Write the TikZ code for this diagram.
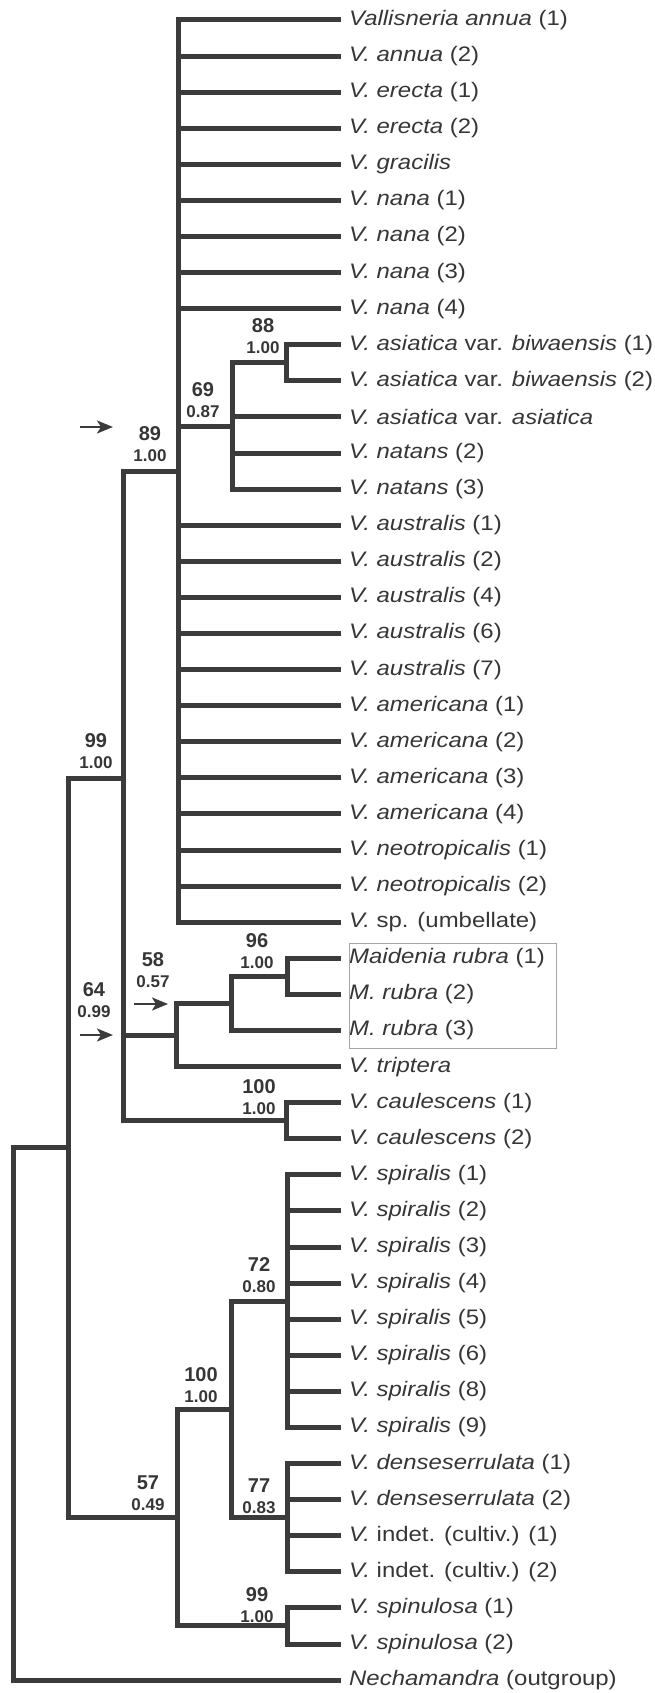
\documentclass[tikz,border=0pt]{standalone}
\usepackage{fontspec}
\setmainfont{Liberation Sans}
\newfontfamily\leaffont{Liberation Sans}[FakeStretch=1.14]
\usetikzlibrary{positioning, arrows.meta}
\definecolor{treegrey}{HTML}{3B3B3B}
\definecolor{textgrey}{HTML}{363636}
\definecolor{boxgrey}{HTML}{A6A6A6}

\begin{document}
\begin{tikzpicture}[x=1pt, y=-1pt, node distance=36.09pt]
% Define styles
\tikzstyle{leaf} = [font=\leaffont\fontsize{21}{25}\selectfont, text=textgrey, inner xsep=8pt, inner ysep=2pt]
\tikzstyle{support} = [font=\bfseries\fontsize{20}{21}\selectfont, text=textgrey, align=center, anchor=south, inner sep=0pt]
\tikzstyle{branch} = [draw=treegrey, line width=5pt]
\tikzstyle{pointer} = [draw=treegrey, line width=2.4pt, -{Stealth[length=16pt, width=13pt, inset=4pt]}]
\tikzstyle{rubrabox} = [draw=boxgrey, line width=1pt]

\useasboundingbox (0,0) rectangle (655,1693);

% Leaves
\node (l1) [leaf, anchor=west] at (341,20) {\textit{Vallisneria annua} (1)};
\node (l2) [leaf, below=of l1.west, anchor=west] {\textit{V. annua} (2)};
\node (l3) [leaf, below=of l2.west, anchor=west] {\textit{V. erecta} (1)};
\node (l4) [leaf, below=of l3.west, anchor=west] {\textit{V. erecta} (2)};
\node (l5) [leaf, below=of l4.west, anchor=west] {\textit{V. gracilis}};
\node (l6) [leaf, below=of l5.west, anchor=west] {\textit{V. nana} (1)};
\node (l7) [leaf, below=of l6.west, anchor=west] {\textit{V. nana} (2)};
\node (l8) [leaf, below=of l7.west, anchor=west] {\textit{V. nana} (3)};
\node (l9) [leaf, below=of l8.west, anchor=west] {\textit{V. nana} (4)};
\node (l10) [leaf, below=of l9.west, anchor=west] {\textit{V. asiatica} var. \textit{biwaensis} (1)};
\node (l11) [leaf, below=of l10.west, anchor=west] {\textit{V. asiatica} var. \textit{biwaensis} (2)};
\node (l12) [leaf, below=of l11.west, anchor=west] {\textit{V. asiatica} var. \textit{asiatica}};
\node (l13) [leaf, below=of l12.west, anchor=west] {\textit{V. natans} (2)};
\node (l14) [leaf, below=of l13.west, anchor=west] {\textit{V. natans} (3)};
\node (l15) [leaf, below=of l14.west, anchor=west] {\textit{V. australis} (1)};
\node (l16) [leaf, below=of l15.west, anchor=west] {\textit{V. australis} (2)};
\node (l17) [leaf, below=of l16.west, anchor=west] {\textit{V. australis} (4)};
\node (l18) [leaf, below=of l17.west, anchor=west] {\textit{V. australis} (6)};
\node (l19) [leaf, below=of l18.west, anchor=west] {\textit{V. australis} (7)};
\node (l20) [leaf, below=of l19.west, anchor=west] {\textit{V. americana} (1)};
\node (l21) [leaf, below=of l20.west, anchor=west] {\textit{V. americana} (2)};
\node (l22) [leaf, below=of l21.west, anchor=west] {\textit{V. americana} (3)};
\node (l23) [leaf, below=of l22.west, anchor=west] {\textit{V. americana} (4)};
\node (l24) [leaf, below=of l23.west, anchor=west] {\textit{V. neotropicalis} (1)};
\node (l25) [leaf, below=of l24.west, anchor=west] {\textit{V. neotropicalis} (2)};
\node (l26) [leaf, below=of l25.west, anchor=west] {\textit{V.} sp. (umbellate)};
\node (l27) [leaf, below=of l26.west, anchor=west] {\textit{Maidenia rubra} (1)};
\node (l28) [leaf, below=of l27.west, anchor=west] {\textit{M. rubra} (2)};
\node (l29) [leaf, below=of l28.west, anchor=west] {\textit{M. rubra} (3)};
\node (l30) [leaf, below=of l29.west, anchor=west] {\textit{V. triptera}};
\node (l31) [leaf, below=of l30.west, anchor=west] {\textit{V. caulescens} (1)};
\node (l32) [leaf, below=of l31.west, anchor=west] {\textit{V. caulescens} (2)};
\node (l33) [leaf, below=of l32.west, anchor=west] {\textit{V. spiralis} (1)};
\node (l34) [leaf, below=of l33.west, anchor=west] {\textit{V. spiralis} (2)};
\node (l35) [leaf, below=of l34.west, anchor=west] {\textit{V. spiralis} (3)};
\node (l36) [leaf, below=of l35.west, anchor=west] {\textit{V. spiralis} (4)};
\node (l37) [leaf, below=of l36.west, anchor=west] {\textit{V. spiralis} (5)};
\node (l38) [leaf, below=of l37.west, anchor=west] {\textit{V. spiralis} (6)};
\node (l39) [leaf, below=of l38.west, anchor=west] {\textit{V. spiralis} (8)};
\node (l40) [leaf, below=of l39.west, anchor=west] {\textit{V. spiralis} (9)};
\node (l41) [leaf, below=of l40.west, anchor=west] {\textit{V. denseserrulata} (1)};
\node (l42) [leaf, below=of l41.west, anchor=west] {\textit{V. denseserrulata} (2)};
\node (l43) [leaf, below=of l42.west, anchor=west] {\textit{V.} indet. (cultiv.) (1)};
\node (l44) [leaf, below=of l43.west, anchor=west] {\textit{V.} indet. (cultiv.) (2)};
\node (l45) [leaf, below=of l44.west, anchor=west] {\textit{V. spinulosa} (1)};
\node (l46) [leaf, below=of l45.west, anchor=west] {\textit{V. spinulosa} (2)};
\node (l47) [leaf, below=of l46.west, anchor=west] {\textit{Nechamandra} (outgroup)};

% Internal nodes
\coordinate (root) at (13,1414);
\coordinate (nin) at (68,1147.8);
\coordinate (n99) at (123,778);
\coordinate (n89) at (178,471.1);
\coordinate (n69) at (232,426);
\coordinate (n88) at (286,362.8);
\coordinate (n64) at (123,1077.8);
\coordinate (n58) at (176,1035);
\coordinate (nmr) at (231,1003.4);
\coordinate (n96) at (287,976.3);
\coordinate (n100c) at (286,1120.7);
\coordinate (n57) at (177,1517.6);
\coordinate (n100s) at (231,1409.4);
\coordinate (n72) at (287,1301.1);
\coordinate (n77) at (287,1517.6);
\coordinate (n99s) at (287,1625.9);

% Branches
\draw[branch] (root) |- (nin) (root) |- (l47.west);
\draw[branch] (nin) |- (n99) (nin) |- (n57);
\draw[branch] (n99) |- (n89) (n99) |- (n64);
\draw[branch] (n89) |- (l1.west) (n89) |- (l2.west) (n89) |- (l3.west) (n89) |- (l4.west)
  (n89) |- (l5.west) (n89) |- (l6.west) (n89) |- (l7.west) (n89) |- (l8.west) (n89) |- (l9.west)
  (n89) |- (n69) (n89) |- (l15.west) (n89) |- (l16.west) (n89) |- (l17.west) (n89) |- (l18.west)
  (n89) |- (l19.west) (n89) |- (l20.west) (n89) |- (l21.west) (n89) |- (l22.west)
  (n89) |- (l23.west) (n89) |- (l24.west) (n89) |- (l25.west) (n89) |- (l26.west);
\draw[branch] (n69) |- (n88) (n69) |- (l12.west) (n69) |- (l13.west) (n69) |- (l14.west);
\draw[branch] (n88) |- (l10.west) (n88) |- (l11.west);
\draw[branch] (n64) |- (n58) (n64) |- (n100c);
\draw[branch] (n58) |- (nmr) (n58) |- (l30.west);
\draw[branch] (nmr) |- (n96) (nmr) |- (l29.west);
\draw[branch] (n96) |- (l27.west) (n96) |- (l28.west);
\draw[branch] (n100c) |- (l31.west) (n100c) |- (l32.west);
\draw[branch] (n57) |- (n100s) (n57) |- (n99s);
\draw[branch] (n100s) |- (n72) (n100s) |- (n77);
\draw[branch] (n72) |- (l33.west) (n72) |- (l34.west) (n72) |- (l35.west) (n72) |- (l36.west)
  (n72) |- (l37.west) (n72) |- (l38.west) (n72) |- (l39.west) (n72) |- (l40.west);
\draw[branch] (n77) |- (l41.west) (n77) |- (l42.west) (n77) |- (l43.west) (n77) |- (l44.west);
\draw[branch] (n99s) |- (l45.west) (n99s) |- (l46.west);

% Maidenia box
\draw[rubrabox] (349.5,943) rectangle (556,1048);

% Support values
\node (s88) [support] at (263,354) {88\\{\fontsize{17}{21}\selectfont 1.00}};
\node (s69) [support] at (203,418) {69\\{\fontsize{17}{21}\selectfont 0.87}};
\node (s89) [support] at (150,462) {89\\{\fontsize{17}{21}\selectfont 1.00}};
\node (s99) [support] at (96,769) {99\\{\fontsize{17}{21}\selectfont 1.00}};
\node (s96) [support] at (257,969) {96\\{\fontsize{17}{21}\selectfont 1.00}};
\node (s58) [support] at (153,988) {58\\{\fontsize{17}{21}\selectfont 0.57}};
\node (s64) [support] at (94,1018) {64\\{\fontsize{17}{21}\selectfont 0.99}};
\node (s100c) [support] at (259,1115) {100\\{\fontsize{17}{21}\selectfont 1.00}};
\node (s72) [support] at (259,1293) {72\\{\fontsize{17}{21}\selectfont 0.80}};
\node (s100s) [support] at (201,1403) {100\\{\fontsize{17}{21}\selectfont 1.00}};
\node (s57) [support] at (148,1511) {57\\{\fontsize{17}{21}\selectfont 0.49}};
\node (s77) [support] at (259,1514) {77\\{\fontsize{17}{21}\selectfont 0.83}};
\node (s99s) [support] at (257,1623) {99\\{\fontsize{17}{21}\selectfont 1.00}};

% Arrows
\coordinate (t89) at (80,427);
\coordinate (h89) at (113,427);
\coordinate (t64) at (80,1035);
\coordinate (h64) at (113,1035);
\coordinate (t58) at (134,1004);
\coordinate (h58) at (168,1004);
\draw[pointer] (t89) -- (h89);
\draw[pointer] (t64) -- (h64);
\draw[pointer] (t58) -- (h58);
\end{tikzpicture}
\end{document}
